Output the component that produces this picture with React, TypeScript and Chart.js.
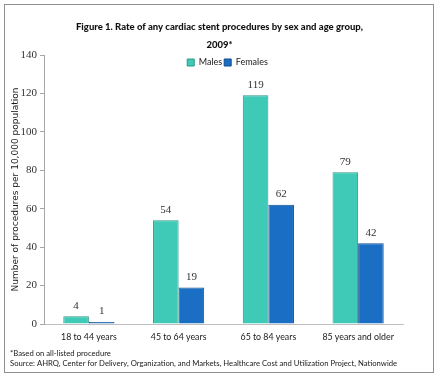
import React, { useEffect, useRef } from 'react';
import { Chart, registerables } from 'chart.js';
Chart.register(...registerables);

const categories = ['18 to 44 years', '45 to 64 years', '65 to 84 years', '85 years and older'];
const males = [4, 54, 119, 79];
const females = [1, 19, 62, 42];
const yMin = 0;
const yMax = 140;
const yStep = 20;
const titleLines = ['Figure 1. Rate of any cardiac stent procedures by sex and age group,', '2009*'];
const yTitle = 'Number of procedures per 10,000 population';
const footnotes = [
  '*Based on all-listed procedure',
  'Source: AHRQ, Center for Delivery, Organization, and Markets, Healthcare Cost and Utilization Project, Nationwide',
];

const valueLabels = {
  id: 'valueLabels',
  afterDatasetsDraw(chart: any) {
    const ctx = chart.ctx;
    ctx.save();
    ctx.font = '11px "Liberation Serif"';
    ctx.fillStyle = '#333333';
    ctx.textAlign = 'center';
    ctx.textBaseline = 'bottom';
    chart.data.datasets.forEach((ds: any, i: number) => {
      const meta = chart.getDatasetMeta(i);
      meta.data.forEach((bar: any, j: number) => {
        ctx.fillText(String(ds.data[j]), bar.x, bar.y - 5);
      });
    });
    ctx.restore();
  },
};

// The legend takes 1px in the layout but is drawn overlapping the top of the plot area.
const legendShift = {
  id: 'legendShift',
  afterLayout(chart: any) {
    const l = chart.legend;
    if (!l) return;
    l.top = 56;
    l.bottom = 74;
    l.height = 18;
    l.left += 8;
    l.right += 8;
  },
};

export default function App() {
  const ref = useRef<HTMLCanvasElement | null>(null);
  useEffect(() => {
    if (!ref.current) return;
    const chart = new Chart(ref.current, {
      type: 'bar',
      data: {
        labels: categories,
        datasets: [
          {
            label: 'Males',
            data: males,
            backgroundColor: '#3fcab7',
            borderColor: '#2a9888',
            borderWidth: 1,
            borderSkipped: 'bottom',
            categoryPercentage: 0.57,
            barPercentage: 1.0,
          },
          {
            label: 'Females',
            data: females,
            backgroundColor: '#1a6ec4',
            borderColor: '#0f4d8f',
            borderWidth: 1,
            borderSkipped: 'bottom',
            categoryPercentage: 0.57,
            barPercentage: 1.0,
          },
        ],
      },
      options: {
        animation: false,
        responsive: false,
        devicePixelRatio: 1,
        layout: { padding: { left: 10, right: 19, top: 0, bottom: 0 } },
        plugins: {
          title: {
            display: true,
            text: titleLines,
            color: '#111111',
            font: { family: 'Lato', size: 9.5, weight: '900', lineHeight: '18px' },
            padding: { top: 18, bottom: 0 },
          },
          subtitle: {
            display: true,
            position: 'bottom',
            align: 'start',
            text: footnotes,
            color: '#1a1a1a',
            font: { family: 'Lato', size: 7.7, lineHeight: '10px' },
            padding: { top: 0, bottom: 11 },
          },
          legend: {
            display: true,
            position: 'top',
            align: 'center',
            maxHeight: 1,
            labels: {
              boxWidth: 7,
              boxHeight: 7,
              padding: 2,
              color: '#1a1a1a',
              font: { family: 'Lato', size: 9, lineHeight: '12px' },
            },
          },
          tooltip: { enabled: false },
        },
        scales: {
          x: {
            grid: { display: false, drawTicks: false, tickLength: 0 },
            border: { display: true, color: '#bfbfbf', width: 1 },
            ticks: {
              color: '#1a1a1a',
              font: { family: 'Lato', size: 8.8 },
              padding: 8,
              maxRotation: 0,
            },
            afterFit: (s: any) => {
              s.height = 25;
            },
          },
          y: {
            min: yMin,
            max: yMax,
            grid: { display: true, drawOnChartArea: false, tickLength: 4, color: '#a6a6a6' },
            border: { display: true, color: '#a6a6a6', width: 1 },
            ticks: {
              stepSize: yStep,
              color: '#333333',
              font: { family: 'Liberation Serif', size: 11 },
              padding: 3,
            },
            title: {
              display: true,
              text: yTitle,
              color: '#1a1a1a',
              font: { family: 'DejaVu Sans', size: 9 },
              padding: { top: 0, bottom: 0 },
            },
            afterFit: (s: any) => {
              s.width = 34;
            },
          },
          y2: {
            position: 'right',
            display: true,
            grid: { display: false },
            border: { display: false },
            ticks: { display: false },
            afterFit: (s: any) => {
              s.width = 26;
            },
          },
        },
      },
      plugins: [valueLabels, legendShift],
    } as any);
    return () => chart.destroy();
  }, []);

  return (
    <div style={{ position: 'fixed', left: 0, top: 0, width: 448, height: 380, background: '#ffffff' }}>
      <canvas ref={ref} width={448} height={380} style={{ position: 'absolute', left: 0, top: 0, width: 448, height: 380 }} />
      <div
        style={{
          position: 'absolute',
          left: 4,
          top: 4,
          width: 430,
          height: 369,
          border: '1px solid #8f8f8f',
          boxSizing: 'border-box',
          pointerEvents: 'none',
        }}
      />
    </div>
  );
}
